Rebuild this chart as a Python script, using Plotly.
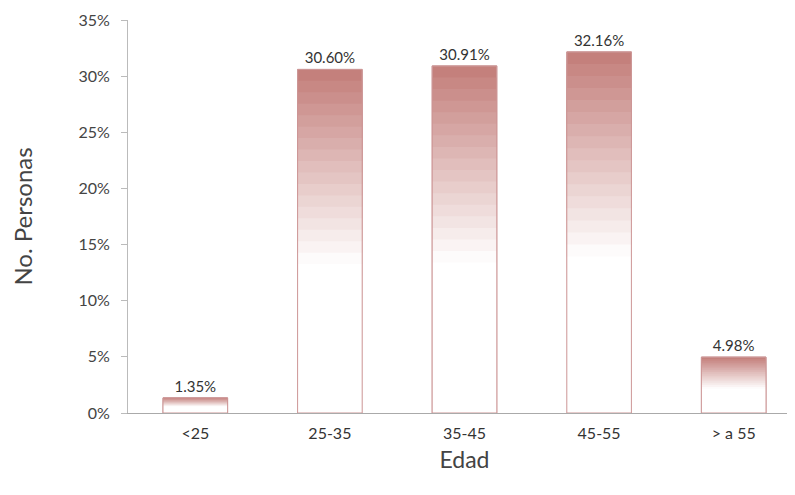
import plotly.graph_objects as go

categories = ["<25", "25-35", "35-45", "45-55", "> a 55"]
values = [1.35, 30.60, 30.91, 32.16, 4.98]
labels = ["1.35%", "30.60%", "30.91%", "32.16%", "4.98%"]
y_tickvals = [0, 5, 10, 15, 20, 25, 30, 35]
y_ticktext = ["0%", "5%", "10%", "15%", "20%", "25%", "30%", "35%"]

FONT = "Lato, 'DejaVu Sans', sans-serif"
top_rgb = (196, 128, 124)
white = (255, 255, 255)

fig = go.Figure()

# full-height bar with outline and labels
fig.add_trace(go.Bar(
    x=categories, y=values, width=0.48,
    marker=dict(color="rgb(%d,%d,%d)" % top_rgb, line=dict(color="rgb(200,150,150)", width=1)),
    text=labels, textposition="outside", cliponaxis=False,
    textfont=dict(family=FONT, size=15, color="#333333"),
    hovertemplate="%{x}: %{text}<extra></extra>",
))

# gradient layers: lighter toward the bottom (styling only)
N = 30
for k in range(1, N):
    frac = 1 - k / N
    t = min(1.0, (k / N) / 0.55)
    c = tuple(round(top_rgb[i] + (white[i] - top_rgb[i]) * t) for i in range(3))
    fig.add_trace(go.Bar(
        x=categories, y=[v * frac for v in values], width=0.48,
        marker=dict(color="rgb(%d,%d,%d)" % c, line=dict(width=0)),
        hoverinfo="skip", showlegend=False,
    ))

# redraw outline on top
fig.add_trace(go.Bar(
    x=categories, y=values, width=0.48,
    marker=dict(color="rgba(0,0,0,0)", line=dict(color="rgb(205,150,150)", width=1)),
    hoverinfo="skip", showlegend=False,
))

fig.update_layout(
    width=795, height=495,
    barmode="overlay",
    showlegend=False,
    paper_bgcolor="white", plot_bgcolor="white",
    margin=dict(l=120, r=2, t=12, b=90, autoexpand=False),
    font=dict(family=FONT, color="#444444"),
    xaxis=dict(
        title=dict(text="Edad", font=dict(family=FONT, size=23, color="#444444"), standoff=10),
        tickfont=dict(family=FONT, size=16, color="#333333"),
        ticklabelstandoff=6,
        showline=True, linecolor="#aaaaaa", linewidth=1,
        ticks="", showgrid=False, zeroline=False, automargin=False,
    ),
    yaxis=dict(
        title=dict(text="No. Personas", font=dict(family=FONT, size=24, color="#444444"), standoff=40),
        range=[0, 35], tickvals=y_tickvals, ticktext=y_ticktext,
        tickfont=dict(family=FONT, size=16, color="#444444"),
        ticklabelstandoff=8,
        showline=True, linecolor="#bbbbbb", linewidth=1,
        ticks="outside", ticklen=6, tickcolor="#bbbbbb",
        showgrid=False, zeroline=False, automargin=False,
    ),
)

fig.write_html("out.html")
